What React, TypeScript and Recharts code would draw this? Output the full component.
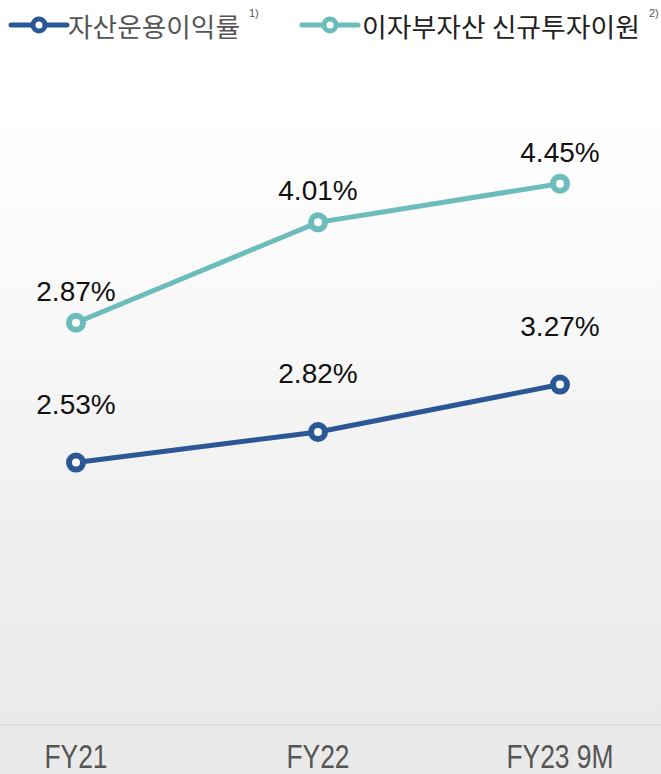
import React from 'react'
import { LineChart, Line, XAxis, YAxis, Legend } from 'recharts'

const periods = ['FY21', 'FY22', 'FY23 9M']
const assetYield = [2.53, 2.82, 3.27]
const newInvestYield = [2.87, 4.01, 4.45]

const seriesNames = ['자산운용이익률', '이자부자산 신규투자이원']
const seriesNotes = ['1)', '2)']

const BLUE = '#2b5796'
const TEAL = '#6cbcbc'

const data = periods.map((p, i) => ({
  period: p,
  asset: assetYield[i],
  invest: newInvestYield[i],
}))

const makeLabel = (dy: number) => (props: any) => {
  const { x, y, value } = props
  return (
    <text
      x={x}
      y={y + dy}
      textAnchor="middle"
      fontFamily="'Liberation Sans', Arial, sans-serif"
      fontSize={28}
      fill="#111"
    >
      {`${Number(value).toFixed(2)}%`}
    </text>
  )
}

// narrow look: regular sans squeezed horizontally
const XTick = (props: any) => {
  const { x, y, payload } = props
  return (
    <g transform={`translate(${x},${y + 43}) scale(0.8,1)`}>
      <text
        x={0}
        y={0}
        textAnchor="middle"
        fontFamily="'Liberation Sans', Arial, sans-serif"
        fontSize={33}
        fill="#555"
      >
        {payload.value}
      </text>
    </g>
  )
}

const LegendContent = () => {
  const items = [
    { color: BLUE, text: seriesNames[0], note: seriesNotes[0], x: 11, tx: 68, tw: 172, fill: '#555' },
    { color: TEAL, text: seriesNames[1], note: seriesNotes[1], x: 302, tx: 362, tw: 278, fill: '#222' },
  ]
  return (
    <svg width={661} height={60}>
      {items.map((it) => (
        <g key={it.text}>
          <line x1={it.x} x2={it.x + 56} y1={25} y2={25} stroke={it.color} strokeWidth={5} strokeLinecap="round" />
          <circle cx={it.x + 28} cy={25} r={6} fill="#fff" stroke={it.color} strokeWidth={5} />
          <text
            x={it.tx}
            y={37}
            fontFamily="'Noto Sans CJK KR', sans-serif"
            fontSize={26}
            fill={it.fill}
            textLength={it.tw}
            lengthAdjust="spacingAndGlyphs"
          >
            {it.text}
          </text>
          <text
            x={it.tx + it.tw + 9}
            y={17}
            fontFamily="'Liberation Sans', Arial, sans-serif"
            fontSize={11}
            fill="#555"
          >
            {it.note}
          </text>
        </g>
      ))}
    </svg>
  )
}

export default function App() {
  return (
    <div
      style={{
        position: 'absolute',
        left: 0,
        top: 0,
        width: 661,
        height: 774,
        overflow: 'hidden',
        background: 'linear-gradient(180deg, #ffffff 0%, #ffffff 15%, #f7f7f7 45%, #ededed 75%, #e9e9e9 100%)',
      }}
    >
      <div style={{ position: 'absolute', left: 0, top: 724, width: 661, height: 2, background: '#dedede' }} />
      <LineChart width={661} height={774} data={data} margin={{ top: 40, right: 101, bottom: 0, left: 76 }}>
        <XAxis
          dataKey="period"
          axisLine={false}
          tickLine={false}
          tickSize={0}
          tickMargin={0}
          height={49}
          tick={<XTick />}
          interval={0}
        />
        <YAxis yAxisId="asset" hide type="number" domain={[0.04, 5.97]} />
        <YAxis yAxisId="invest" hide type="number" domain={[-1.7, 5.4]} />
        <Legend
          verticalAlign="top"
          height={60}
          content={<LegendContent />}
          wrapperStyle={{ top: 0, left: 0, width: 661, height: 60 }}
        />
        <Line
          yAxisId="invest"
          dataKey="invest"
          name={seriesNames[1]}
          stroke={TEAL}
          strokeWidth={5}
          dot={{ r: 7, fill: '#fff', stroke: TEAL, strokeWidth: 6 }}
          activeDot={false}
          label={makeLabel(-22)}
          isAnimationActive={false}
        />
        <Line
          yAxisId="asset"
          dataKey="asset"
          name={seriesNames[0]}
          stroke={BLUE}
          strokeWidth={5}
          dot={{ r: 7, fill: '#fff', stroke: BLUE, strokeWidth: 6 }}
          activeDot={false}
          label={makeLabel(-49)}
          isAnimationActive={false}
        />
      </LineChart>
    </div>
  )
}
